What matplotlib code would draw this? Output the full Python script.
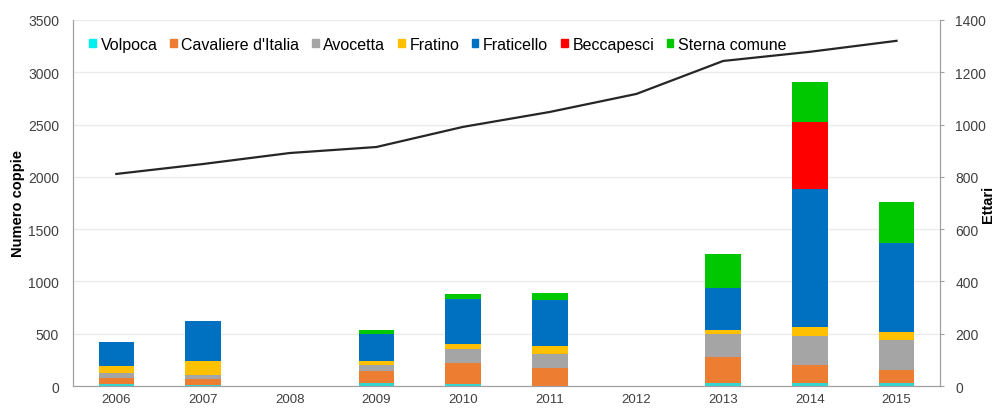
import matplotlib
matplotlib.use('Agg')
import matplotlib.pyplot as plt
import numpy as np

plt.rcParams['font.family'] = ['Liberation Sans', 'DejaVu Sans']

#############################################
# data
anni = ['2006', '2007', '2008', '2009', '2010', '2011', '2012', '2013', '2014', '2015']
specie = ['Volpoca', "Cavaliere d'Italia", 'Avocetta', 'Fratino', 'Fraticello', 'Beccapesci', 'Sterna comune']
volpoca = [20, 13, 0, 25, 20, 5, 0, 25, 25, 25]
cavaliere = [55, 57, 0, 120, 204, 169, 0, 249, 175, 128]
avocetta = [45, 32, 0, 55, 127, 137, 0, 220, 274, 287]
fratino = [75, 137, 0, 38, 54, 70, 0, 38, 86, 73]
fraticello = [225, 383, 0, 255, 424, 437, 0, 402, 1320, 853]
beccapesci = [0, 0, 0, 0, 0, 0, 0, 0, 647, 0]
sterna = [0, 0, 0, 41, 51, 67, 0, 325, 376, 392]
ettari = [811, 849, 891, 914, 991, 1048, 1117, 1243, 1278, 1320]

colori = ['#33D6D0', '#ED7D31', '#A5A5A5', '#FFC000', '#0070C0', '#FF0000', '#00C800']
legend_colori = ['#00F0F0', '#ED7D31', '#A5A5A5', '#FFC000', '#0070C0', '#FF0000', '#00C800']
#############################################

fig = plt.figure(figsize=(10.08, 4.10), dpi=100)
ax = fig.add_axes([0.0724, 0.056, 0.86, 0.893])
x = np.arange(len(anni))

serie = [volpoca, cavaliere, avocetta, fratino, fraticello, beccapesci, sterna]
bottom = np.zeros(len(anni))
for vals, col in zip(serie, colori):
    ax.bar(x, vals, 0.41, bottom=bottom, color=col, zorder=2)
    bottom += np.array(vals)

ax.set_xlim(-0.5, len(anni) - 0.5)
ax.set_ylim(0, 3500)
ax.set_yticks(np.arange(0, 3501, 500))
ax.set_xticks(x)
ax.set_xticklabels(anni)
ax.yaxis.grid(True, color='#EBEBEB', lw=1, zorder=0)
ax.tick_params(axis='both', labelsize=10, colors='#404040', length=0)
ax.tick_params(axis='x', pad=5, labelsize=9.5)
ax.tick_params(axis='y', pad=10)
ax.set_ylabel('Numero coppie', fontsize=10.5, fontweight='bold', labelpad=2)
ax.spines['top'].set_visible(False)
for s in ['left', 'bottom', 'right']:
    ax.spines[s].set_color('#A0A0A0')

# legend
handles = [plt.Rectangle((0, 0), 1, 1, color=c) for c in legend_colori]
ax.legend(handles, specie, loc='center left', ncol=7, frameon=False, fontsize=11.5,
          handlelength=0.4, handleheight=0.4, handletextpad=0.3, columnspacing=0.8,
          borderaxespad=0, borderpad=0, bbox_to_anchor=(0.019, 0.933))

ax2 = ax.twinx()
ax2.plot(x, ettari, color='#262626', lw=1.6, zorder=3)
ax2.set_ylim(0, 1400)
ax2.set_yticks(np.arange(0, 1401, 200))
ax2.tick_params(axis='y', labelsize=10, colors='#404040', length=3, direction='out', pad=8)
ax2.tick_params(axis='y', color='#A0A0A0')
ax2.set_ylabel('Ettari', fontsize=10.5, fontweight='bold', labelpad=-4)
ax2.spines['top'].set_visible(False)
for s in ['left', 'bottom', 'right']:
    ax2.spines[s].set_color('#A0A0A0')

fig.savefig('out.png', dpi=100)
